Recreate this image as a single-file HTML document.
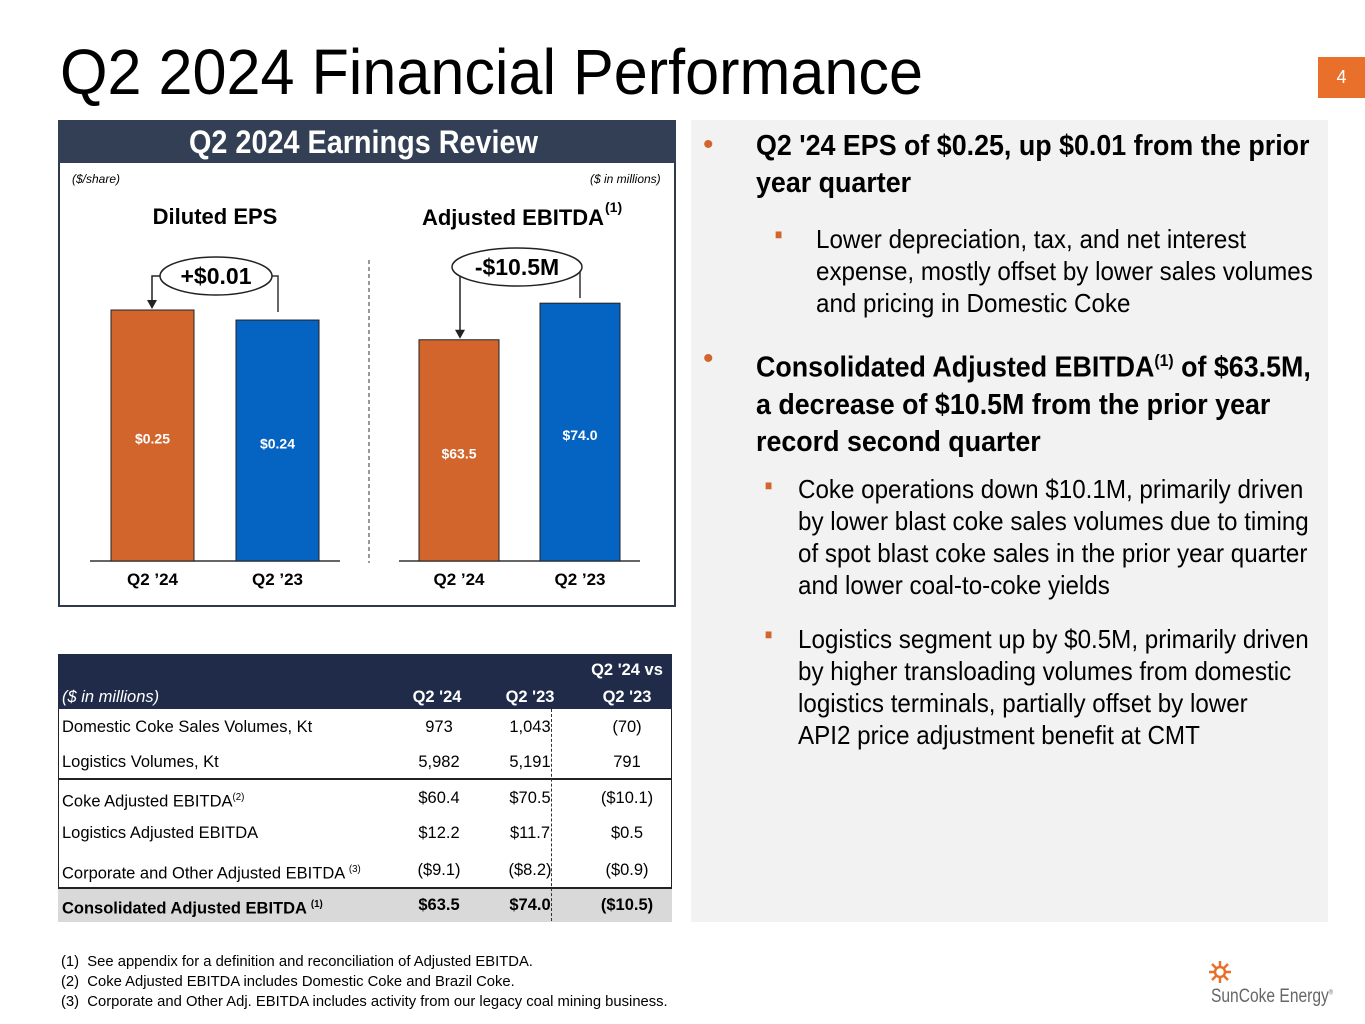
<!DOCTYPE html>
<html><head><meta charset="utf-8">
<style>
body{margin:0;width:1365px;height:1024px;background:#fff;position:relative;overflow:hidden;font-family:"Liberation Sans",sans-serif;color:#000}
.a{position:absolute;white-space:nowrap;transform-origin:0 0;transform:scaleX(0.86)}
.b{font-weight:bold}
#panel{position:absolute;left:691px;top:120px;width:637px;height:802px;background:#f2f2f2}
.bul{color:#d2652c}
</style></head><body>
<div class="a" style="left:60px;top:36px;font-size:64px;line-height:72px;color:#000;transform:scaleX(0.955)">Q2 2024 Financial Performance</div>
<div style="position:absolute;left:1318px;top:57px;width:47px;height:41px;background:#e8702a;color:#fff;font-size:18px;line-height:41px;text-align:center">4</div>

<div style="position:absolute;left:58px;top:120px;width:618px;height:487px;border:2px solid #2e3a4e;box-sizing:border-box"></div>
<div style="position:absolute;left:58px;top:120px;width:618px;height:43px;background:#323f55"></div>
<div class="a b" style="left:189px;top:123px;font-size:32px;line-height:38px;color:#fff;transform:scaleX(0.9)">Q2 2024 Earnings Review</div>
<div class="a" style="left:72px;top:172px;font-size:12px;font-style:italic;transform:none">($/share)</div>
<div class="a" style="left:590px;top:172px;font-size:12px;font-style:italic;transform:none">($ in millions)</div>

<svg id="chart" width="1365" height="620" style="position:absolute;left:0;top:0" font-family="Liberation Sans, sans-serif"></svg>

<div id="panel"></div>
<div class="a bul" style="left:703px;top:128px;font-size:30px;transform:none">•</div>
<div class="a b" style="left:756px;top:128px;font-size:29px;line-height:37px;transform:scaleX(0.925)">Q2 '24 EPS of $0.25, up $0.01 from the prior<br>year quarter</div>
<div class="a bul" style="left:775px;top:226px;font-size:14px">■</div>
<div class="a" style="left:816px;top:223px;font-size:26px;line-height:32px;transform:scaleX(0.93)">Lower depreciation, tax, and net interest<br>expense, mostly offset by lower sales volumes<br>and pricing in Domestic Coke</div>
<div class="a bul" style="left:703px;top:342px;font-size:30px;transform:none">•</div>
<div class="a b" style="left:756px;top:342px;font-size:29px;line-height:37px;transform:scaleX(0.925)">Consolidated Adjusted EBITDA<sup style="font-size:17px">(1)</sup> of $63.5M,<br>a decrease of $10.5M from the prior year<br>record second quarter</div>
<div class="a bul" style="left:765px;top:477px;font-size:14px">■</div>
<div class="a" style="left:798px;top:473px;font-size:26px;line-height:32px;transform:scaleX(0.93)">Coke operations down $10.1M, primarily driven<br>by lower blast coke sales volumes due to timing<br>of spot blast coke sales in the prior year quarter<br>and lower coal-to-coke yields</div>
<div class="a bul" style="left:765px;top:626px;font-size:14px">■</div>
<div class="a" style="left:798px;top:623px;font-size:26px;line-height:32px;transform:scaleX(0.93)">Logistics segment up by $0.5M, primarily driven<br>by higher transloading volumes from domestic<br>logistics terminals, partially offset by lower<br>API2 price adjustment benefit at CMT</div>

<!-- table -->
<div style="position:absolute;left:58px;top:654px;width:614px;height:268px;border:1.5px solid #222;box-sizing:border-box"></div>
<div style="position:absolute;left:58px;top:654px;width:614px;height:55px;background:#1f2b48"></div>
<div style="position:absolute;left:58px;top:887px;width:614px;height:35px;background:#d9d9d9;border-top:2px solid #222;box-sizing:border-box"></div>
<div style="position:absolute;left:58px;top:778px;width:614px;height:2px;background:#222"></div>
<div style="position:absolute;left:551px;top:709px;height:212px;border-left:1.5px dashed #333"></div>
<div id="tbl"></div>

<div class="a" style="left:61px;top:952px;font-size:14.5px;line-height:20px;transform:scaleX(1.02)">(1)&nbsp; See appendix for a definition and reconciliation of Adjusted EBITDA.<br>(2)&nbsp; Coke Adjusted EBITDA includes Domestic Coke and Brazil Coke.<br>(3)&nbsp; Corporate and Other Adj. EBITDA includes activity from our legacy coal mining business.</div>

<div style="position:absolute;left:1208px;top:960px">
<svg width="24" height="24"><g stroke="#e8702a" stroke-width="2.5"><line x1="12" y1="1" x2="12" y2="23"/><line x1="1" y1="12" x2="23" y2="12"/><line x1="4" y1="4" x2="20" y2="20"/><line x1="20" y1="4" x2="4" y2="20"/></g><circle cx="12" cy="12" r="5" fill="#fff" stroke="#e8702a" stroke-width="2.5"/></svg>
<div class="a" style="left:3px;top:26px;font-size:19px;color:#666;transform:scaleX(0.82)">SunCoke Energy<sup style="font-size:7px">®</sup></div>
</div>

<script>
const epsCats=["Q2 ’24","Q2 ’23"];
const epsVals=[0.25,0.24];
const epsLabels=["$0.25","$0.24"];
const ebitdaCats=["Q2 ’24","Q2 ’23"];
const ebitdaVals=[63.5,74.0];
const ebitdaLabels=["$63.5","$74.0"];
const colors=["#d2652c","#0563c1"];

const svg=document.getElementById('chart');
const NS='http://www.w3.org/2000/svg';
function mk(t,a,txt){const e=document.createElementNS(NS,t);for(const k in a)e.setAttribute(k,a[k]);if(txt!==undefined)e.textContent=txt;svg.appendChild(e);return e;}
const base=561;
function drawChart(cats,vals,labels,xs,bw,scale,name,line){
  const ln=mk('line',{x1:line[0],x2:line[1],y1:base,y2:base,stroke:'#333','stroke-width':1.5});
  
  
  const tops=[];
  vals.forEach((v,i)=>{
    const h=scale(v);tops.push(base-h);
    const r=mk('rect',{x:xs[i],y:base-h,width:bw,height:h,fill:colors[i],stroke:'#222','stroke-width':1});
    
    
    const t=mk('text',{x:xs[i]+bw/2,y:base-h/2+8,'text-anchor':'middle',fill:'#fff','font-size':14,'font-weight':'bold'},labels[i]);
    
    
    const c=mk('text',{x:xs[i]+bw/2,y:585,'text-anchor':'middle','font-size':17,'font-weight':'bold'},cats[i]);
    
    
  });
  return tops;
}
const epsTops=drawChart(epsCats,epsVals,epsLabels,[111,236],83,v=>v*1004,'eps',[90,340]);
const ebTops=drawChart(ebitdaCats,ebitdaVals,ebitdaLabels,[419,540],80,v=>v*3.484,'ebitda',[399,640]);
let d=mk('line',{x1:369,x2:369,y1:260,y2:563,stroke:'#333','stroke-dasharray':'4,3','stroke-width':1});


let t1=mk('text',{x:215,y:224,'text-anchor':'middle','font-size':22,'font-weight':'bold'},'Diluted EPS');


let t2=mk('text',{x:513,y:225,'text-anchor':'middle','font-size':22,'font-weight':'bold'},'Adjusted EBITDA');


mk('text',{x:605,y:212,'font-size':14,'font-weight':'bold'},'(1)');
function callout(cx,cy,rx,txt,lx,rxl,topL,topR,name){
  const g1=mk('path',{d:`M${rxl} ${topR} V${cy} H${cx+rx-6}`,fill:'none',stroke:'#333','stroke-width':1.5});
  
  
  const g2=mk('path',{d:`M${cx-rx+6} ${cy} H${lx} V${topL-8}`,fill:'none',stroke:'#222','stroke-width':1.5});
  
  
  mk('path',{d:`M${lx-5} ${topL-10} L${lx+5} ${topL-10} L${lx} ${topL-1} Z`,fill:'#222'});
  const e=mk('ellipse',{cx:cx,cy:cy,rx:rx,ry:19,fill:'#fff',stroke:'#222','stroke-width':1.5});
  
  
  const t=mk('text',{x:cx,y:cy+8,'text-anchor':'middle','font-size':23,'font-weight':'bold'},txt);
  
  
}
callout(216,276,56,'+$0.01',152,278,epsTops[0],epsTops[1]-8,'eps-change');
callout(517,267,65,'-$10.5M',460,580,ebTops[0],ebTops[1]-5,'ebitda-change');

// table
const rowNames=["Domestic Coke Sales Volumes, Kt","Logistics Volumes, Kt","Coke Adjusted EBITDA","Logistics Adjusted EBITDA","Corporate and Other Adjusted EBITDA ","Consolidated Adjusted EBITDA "];
const rowSup=["","","(2)","","(3)","(1)"];
const col24=["973","5,982","$60.4","$12.2","($9.1)","$63.5"];
const col23=["1,043","5,191","$70.5","$11.7","($8.2)","$74.0"];
const colVs=["(70)","791","($10.1)","$0.5","($0.9)","($10.5)"];
const rowY=[727,762,798,833,870,905];
const tbl=document.getElementById('tbl');
function add(html,x,y,cls,anchor,name){
  const e=document.createElement('div');
  e.className='a'+(cls?' '+cls:'');
  e.innerHTML=html;
  e.style.left=x+'px';e.style.top=(y-10)+'px';e.style.fontSize='17px';e.style.lineHeight='20px';
  e.style.transform='scaleX(0.97)';
  if(anchor)e.style.transformOrigin='50% 0';
  
  
  tbl.appendChild(e);return e;
}
function addC(txt,cx,y,bold,name,color){
  const e=add(txt,cx-60,y,bold?'b':'',true,name);
  e.style.width='120px';e.style.textAlign='center';if(color)e.style.color=color;
}
add('<i>($ in millions)</i>',62,697,'','', 'table-unit-header').style.color='#fff';
addC('Q2 \'24',437,697,true,'col-header-q2-24','#fff');
addC('Q2 \'23',530,697,true,'col-header-q2-23','#fff');
addC('Q2 \'24 vs',627,670,true,'col-header-vs','#fff');
addC('Q2 \'23',627,697,true,'col-header-vs-2','#fff');
rowNames.forEach((n,i)=>{
  const bold=i===5;
  add(n+(rowSup[i]?'<sup style="font-size:10px">'+rowSup[i]+'</sup>':''),62,rowY[i],bold?'b':'','','row-label');
  addC(col24[i],439,rowY[i],bold,'cell-q2-24');
  addC(col23[i],530,rowY[i],bold,'cell-q2-23');
  addC(colVs[i],627,rowY[i],bold,'cell-change');
});
</script>
</body></html>
